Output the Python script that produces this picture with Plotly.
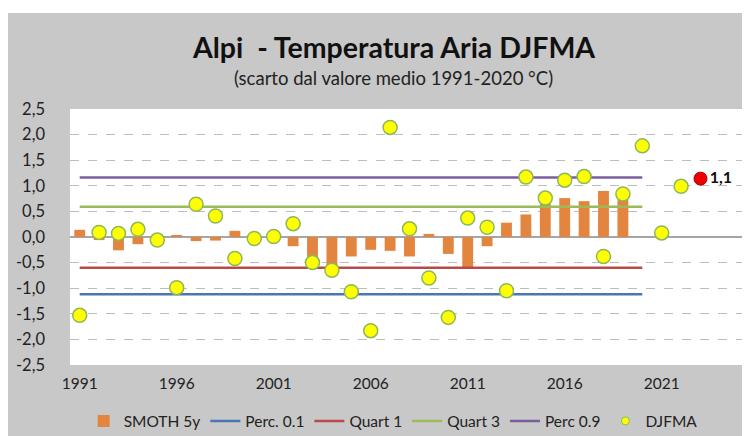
import plotly.graph_objects as go

# ---- data ----
years = list(range(1991, 2023))
djfma = [-1.53, 0.09, 0.07, 0.15, -0.06, -0.99, 0.64, 0.41, -0.42, -0.03,
         0.01, 0.26, -0.50, -0.65, -1.07, -1.83, 2.14, 0.16, -0.80, -1.57,
         0.37, 0.19, -1.05, 1.17, 0.76, 1.11, 1.18, -0.38, 0.84, 1.78,
         0.08, 0.99]
smooth_years = list(range(1991, 2020))
smooth5y = [0.14, -0.06, -0.26, -0.14, -0.05, 0.02, -0.08, -0.07, 0.12, -0.03,
            -0.02, -0.18, -0.40, -0.55, -0.38, -0.25, -0.27, -0.38, 0.06, -0.33,
            -0.59, -0.18, 0.28, 0.44, 0.65, 0.76, 0.70, 0.90, 0.72]
ref_years = list(range(1991, 2021))
perc10 = -1.12
quart1 = -0.60
quart3 = 0.59
perc90 = 1.16
current_year = [2023]
current_value = [1.14]
current_label = ["1,1"]
xtick_vals = [1991, 1996, 2001, 2006, 2011, 2016, 2021]
ytick_vals = [2.5, 2.0, 1.5, 1.0, 0.5, 0.0, -0.5, -1.0, -1.5, -2.0, -2.5]
ytick_text = [f"{v:.1f}".replace(".", ",") for v in ytick_vals]

FONT = "Lato"
PW = 678.7   # plot width (px)
PH = 255.7   # plot height (px)
fig = go.Figure()

fig.add_trace(go.Bar(x=smooth_years, y=smooth5y, name="SMOTH 5y",
                     marker=dict(color="#E3853F", line=dict(width=0)),
                     width=0.56))
for name, val, col in [("Perc. 0.1", perc10, "#4A76B6"),
                       ("Quart 1", quart1, "#BA4A47"),
                       ("Quart 3", quart3, "#9BBB59"),
                       ("Perc 0.9", perc90, "#7B5C9F")]:
    fig.add_trace(go.Scatter(x=ref_years, y=[val] * len(ref_years), mode="lines",
                             name=name, line=dict(color=col, width=2.5)))

fig.add_trace(go.Scatter(x=years, y=djfma, mode="markers", name="DJFMA",
                         showlegend=False,
                         marker=dict(color="#FFFF00", size=14,
                                     line=dict(color="#8DB85A", width=1.5))))
# legend entry (small symbol)
fig.add_trace(go.Scatter(x=[None], y=[None], mode="markers", name="DJFMA",
                         marker=dict(color="#FFFF00", size=8,
                                     line=dict(color="#8DB85A", width=1))))
fig.add_trace(go.Scatter(x=current_year, y=current_value, mode="markers+text",
                         text=current_label, textposition="middle right",
                         cliponaxis=False,
                         textfont=dict(family=FONT, size=16, color="#111111", weight="bold"),
                         showlegend=False,
                         marker=dict(color="#EE0000", size=13,
                                     line=dict(color="#B00000", width=1))))

fig.update_layout(
    width=750, height=436,
    margin=dict(l=62, r=9, t=101, b=79, autoexpand=False),
    paper_bgcolor="#C8C8C8", plot_bgcolor="#FFFFFF",
    font=dict(family=FONT, size=15, color="#222222"),
    showlegend=True,
    legend=dict(orientation="h", x=(385 - 62) / PW, xanchor="center",
                y=-0.22, yanchor="middle", font=dict(size=15.5, color="#222222"),
                bgcolor="rgba(0,0,0,0)", traceorder="normal", itemwidth=30),
    bargap=0.45,
    shapes=[dict(type="rect", xref="paper", yref="paper",
                 x0=-62 / PW, x1=1 + 9 / PW, y0=(356.7 - 5) / PH, y1=356.7 / PH,
                 fillcolor="#FFFFFF", line=dict(width=0), layer="above")],
    annotations=[
        dict(text="<b>Alpi  - Temperatura Aria DJFMA</b>", xref="paper", yref="paper",
             x=(385 - 62) / PW, y=(356.7 - 39) / PH, xanchor="center", yanchor="middle",
             showarrow=False, font=dict(family=FONT, size=28.5, color="#111111")),
        dict(text="(scarto dal valore medio 1991-2020 °C)", xref="paper", yref="paper",
             x=(385 - 62) / PW, y=(356.7 - 70) / PH, xanchor="center", yanchor="middle",
             showarrow=False, font=dict(family=FONT, size=18.5, color="#222222")),
    ],
)
fig.update_xaxes(range=[1990.5, 2025.5], tickmode="array", tickvals=xtick_vals,
                 showgrid=False, zeroline=False, showline=False, ticks="",
                 tickangle=0, automargin=False,
                 ticklabelstandoff=7, tickfont=dict(size=15.5, color="#222222"))
fig.update_yaxes(range=[-2.5, 2.5], tickmode="array", tickvals=ytick_vals,
                 ticktext=ytick_text, showgrid=True, gridcolor="#BDBDBD",
                 griddash="dash", gridwidth=1, zeroline=True, zerolinecolor="#A6A6A6",
                 zerolinewidth=1.5, showline=False, ticks="", ticklabelstandoff=24,
                 automargin=False, tickfont=dict(size=16.5, color="#222222"))

fig.write_html("out.html")
